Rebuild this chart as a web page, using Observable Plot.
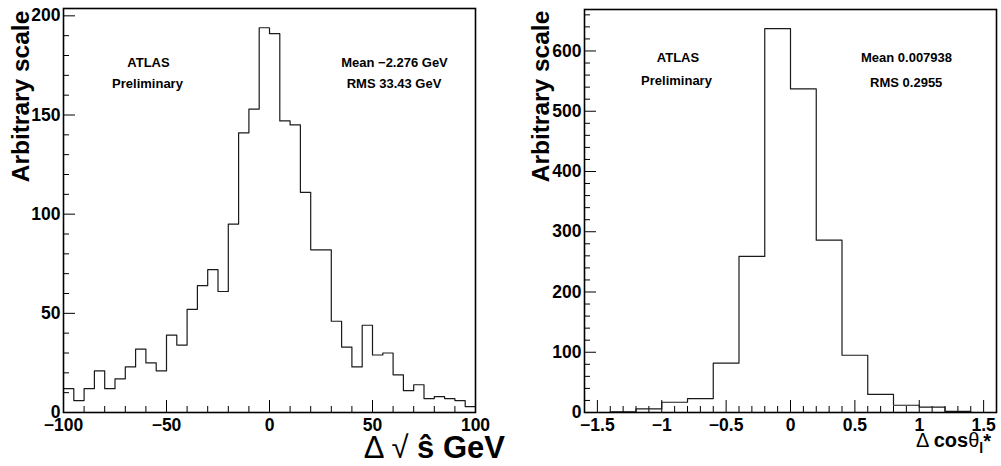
<!DOCTYPE html>
<html><head><meta charset="utf-8">
<script src="https://cdn.jsdelivr.net/npm/d3@7"></script>
<script src="https://cdn.jsdelivr.net/npm/@observablehq/plot@0.6"></script>
<style>
html,body{margin:0;padding:0;background:#fff;}
#wrap{display:flex;width:1001px;height:466px;overflow:hidden;}
#wrap svg{display:block;overflow:visible;flex:none;}
</style></head><body><div id="wrap"></div>
<script>
// ---- Left panel: Δ√ŝ (GeV), 40 bins of 5 GeV from -100 to 100
const sqrtsBinLow = -100;
const sqrtsBinWidth = 5;
const sqrtsCounts = [12, 6, 12, 21, 12, 17, 23, 32, 25, 21,
                     39, 34, 52, 64, 72, 61, 95, 141, 153, 194,
                     191, 147, 145, 111, 82, 82, 46, 33, 23, 44,
                     29, 30, 19, 11, 14, 7, 8, 7, 6, 3];
const sqrtsXTicks = [-100, -50, 0, 50, 100];
const sqrtsYTicks = [0, 50, 100, 150, 200];
const sqrtsStats = ["Mean \u22122.276 GeV", "RMS 33.43 GeV"];

// ---- Right panel: Δcosθ*, 16 bins of 0.2 from -1.6 to 1.6
const cosBinLow = -1.6;
const cosBinWidth = 0.2;
const cosCounts = [0, 1, 6, 17, 23, 82, 259, 637, 537, 286, 95, 30, 12, 9, 2, 0];
const cosXTicks = [-1.5, -1, -0.5, 0, 0.5, 1, 1.5];
const cosYTicks = [0, 100, 200, 300, 400, 500, 600];
const cosStats = ["Mean 0.007938", "RMS 0.2955"];

const atlasLabel = ["ATLAS", "Preliminary"];
const yTitle = "Arbitrary scale";

const FONT = "'Liberation Sans', Arial, Helvetica, sans-serif";
const fmt = d => (d < 0 ? "\u2212" : "") + Math.abs(d);

function steps(low, w, counts) {
  const pts = counts.map((c, i) => ({x: +(low + i * w).toFixed(6), y: c}));
  pts.push({x: +(low + counts.length * w).toFixed(6), y: counts[counts.length - 1]});
  return pts;
}
function minor(lo, hi, step, major) {
  return d3.range(Math.round((hi - lo) / step) + 1).map(i => +(lo + i * step).toFixed(6))
    .filter(v => !major.some(m => Math.abs(m - v) < 1e-9));
}

function panel(o) {
  const H = 466 - o.mt - o.mb, W = o.width - o.ml - o.mr;
  const ymax = 1.05 * d3.max(o.counts);
  return Plot.plot({
    width: o.width, height: 466,
    marginLeft: o.ml, marginRight: o.mr, marginTop: o.mt, marginBottom: o.mb,
    x: {domain: o.xDomain},
    y: {domain: [0, ymax]},
    style: {fontFamily: FONT, fontWeight: "bold", color: "black", background: "white", overflow: "visible"},
    marks: [
      Plot.tickX(minor(o.xDomain[0], o.xDomain[1], o.xMinorStep, o.xTicks), {x: d => d, insetTop: H - 6, stroke: "black", strokeWidth: 1}),
      Plot.tickX(o.xTicks, {x: d => d, insetTop: H - 12, stroke: "black", strokeWidth: 1}),
      Plot.tickY(minor(0, o.yMinorMax, o.yMinorStep, o.yTicks), {y: d => d, insetRight: W - 6, stroke: "black", strokeWidth: 1}),
      Plot.tickY(o.yTicks, {y: d => d, insetRight: W - 12, stroke: "black", strokeWidth: 1}),
      Plot.axisX({ticks: o.xTicks, tickSize: 0, tickPadding: 6, tickFormat: fmt, fontSize: 17.5, label: null}),
      Plot.axisY({ticks: o.yTicks, tickSize: 0, tickPadding: 3, tickFormat: fmt, fontSize: 17.5, label: null}),
      Plot.line(steps(o.low, o.bw, o.counts), {x: "x", y: "y", curve: "step-after", stroke: "#1a1a1a", strokeWidth: 1.2}),
      Plot.frame({stroke: "black", strokeWidth: 1.6}),
      Plot.text([atlasLabel[0]], {frameAnchor: "top-left", dx: o.atlas[0], dy: o.atlas[1], textAnchor: "middle", lineAnchor: "bottom", fontSize: 13, fontWeight: "bold"}),
      Plot.text([atlasLabel[1]], {frameAnchor: "top-left", dx: o.atlas[2], dy: o.atlas[3], textAnchor: "middle", lineAnchor: "bottom", fontSize: 13, fontWeight: "bold"}),
      Plot.text([o.stats[0]], {frameAnchor: "top-left", dx: o.st[0], dy: o.st[1], textAnchor: "middle", lineAnchor: "bottom", fontSize: 13, fontWeight: "bold"}),
      Plot.text([o.stats[1]], {frameAnchor: "top-left", dx: o.st[2], dy: o.st[3], textAnchor: "middle", lineAnchor: "bottom", fontSize: 13, fontWeight: "bold"}),
      Plot.text([yTitle], {frameAnchor: "left", dx: o.yt[0], dy: o.yt[1], rotate: -90, textAnchor: "middle", lineAnchor: "bottom", fontSize: 24.5, fontWeight: "bold"})
    ]
  });
}

const wrap = document.getElementById("wrap");

const left = panel({
  width: 510, ml: 63, mr: 35, mt: 8, mb: 54,
  xDomain: [-100, 100], xTicks: sqrtsXTicks, xMinorStep: 10,
  yTicks: sqrtsYTicks, yMinorStep: 10, yMinorMax: 200,
  counts: sqrtsCounts, low: sqrtsBinLow, bw: sqrtsBinWidth,
  stats: sqrtsStats,
  atlas: [85, 58.5, 84, 79], st: [331, 58, 330.5, 79],
  yt: [-35, -114]
});
wrap.appendChild(left);

const right = panel({
  width: 491, ml: 74, mr: 5, mt: 9, mb: 54,
  xDomain: [-1.6, 1.6], xTicks: cosXTicks, xMinorStep: 0.1,
  yTicks: cosYTicks, yMinorStep: 20, yMinorMax: 660,
  counts: cosCounts, low: cosBinLow, bw: cosBinWidth,
  stats: cosStats,
  atlas: [93.5, 52.7, 92, 75.5], st: [322, 52.7, 321.7, 77],
  yt: [-36, -114.5]
});
wrap.appendChild(right);

// x-axis titles with mixed styling (real text)
{
  const t = d3.select(left).append("text")
    .attr("x", 505).attr("y", 458).attr("text-anchor", "end")
    .attr("font-family", FONT).attr("font-size", 31).attr("fill", "black");
  t.append("tspan").attr("font-weight", "normal").text("\u0394 \u221A ");
  t.append("tspan").attr("font-weight", "bold").text("\u015D GeV");
}
{
  const t = d3.select(right).append("text")
    .attr("x", 481).attr("y", 447).attr("text-anchor", "end")
    .attr("font-family", FONT).attr("font-size", 20).attr("fill", "black");
  t.append("tspan").attr("font-weight", "normal").text("\u0394 ");
  t.append("tspan").attr("font-weight", "bold").text("cos");
  t.append("tspan").attr("font-weight", "normal").text("\u03B8");
  t.append("tspan").attr("font-weight", "bold").attr("font-size", 14).attr("dy", 6).text("l");
  t.append("tspan").attr("font-weight", "bold").attr("dy", -5).text("*");
}
</script></body></html>
